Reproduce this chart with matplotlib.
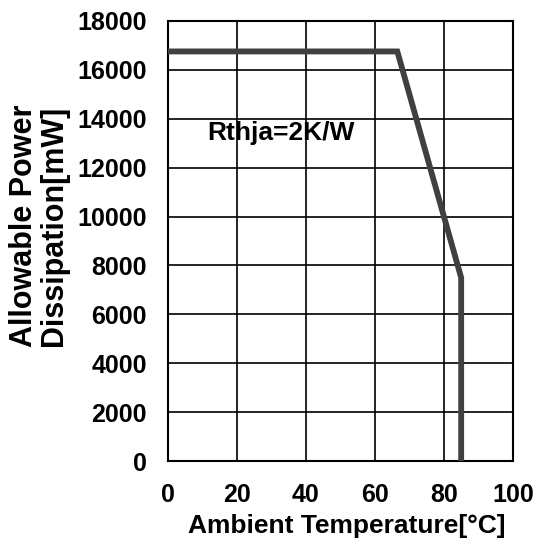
import numpy as np
import matplotlib
matplotlib.use('Agg')
import matplotlib.pyplot as plt

plt.rcParams['font.family'] = ['Liberation Sans', 'DejaVu Sans']
plt.rcParams['font.weight'] = 'bold'

# derating curve
temperatura = [0, 66.5, 85, 85]
potencia = [16750, 16750, 7500, 0]

x_ticks = [0, 20, 40, 60, 80, 100]
y_ticks = [0, 2000, 4000, 6000, 8000, 10000, 12000, 14000, 16000, 18000]

fig = plt.figure(figsize=(5.36, 5.49), dpi=100)
ax = fig.add_axes([0.313, 0.160, 0.644, 0.802])

ax.plot(temperatura, potencia, color='#404040', linewidth=4.2, solid_joinstyle='miter',
        solid_capstyle='butt', zorder=3)

ax.set_xlim(0, 100)
ax.set_ylim(0, 18000)
ax.set_xticks(x_ticks)
ax.set_yticks(y_ticks)
ax.grid(True, color='black', linewidth=1.2)
for s in ax.spines.values():
    s.set_linewidth(1.5)
ax.tick_params(length=0, labelsize=18)
ax.tick_params(axis='y', pad=15)
ax.tick_params(axis='x', pad=16)
for lbl in ax.get_xticklabels() + ax.get_yticklabels():
    lbl.set_fontweight('bold')

fig.text(0.646, 0.042, 'Ambient Temperature[°C]', fontsize=19, fontweight='bold',
         ha='center', va='center')
fig.text(0.073, 0.588, 'Allowable Power\nDissipation[mW]', fontsize=22, fontweight='bold',
         ha='center', va='center', rotation=90, linespacing=1.0)
ax.text(11.4, 13400, 'Rthja=2K/W', fontsize=19, fontweight='bold', va='center')

fig.savefig('out.png', dpi=100)
